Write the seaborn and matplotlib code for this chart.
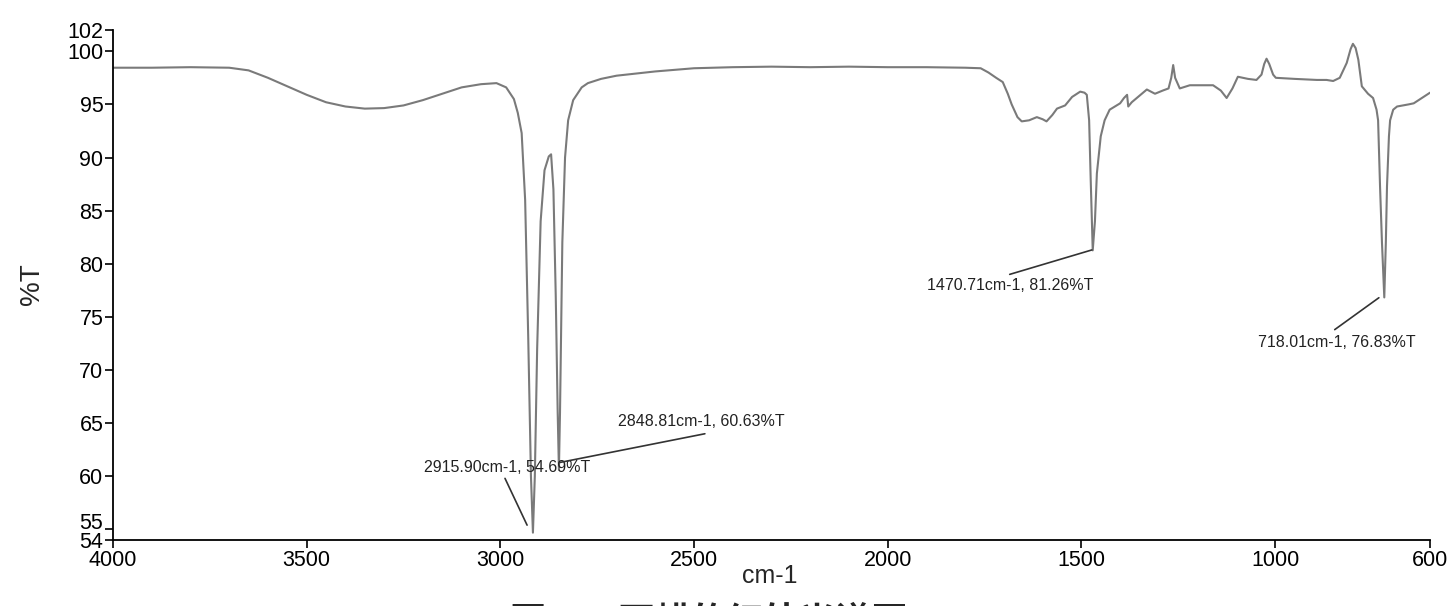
import matplotlib
matplotlib.use("Agg")
import matplotlib.pyplot as plt
import matplotlib.transforms as mtransforms
import seaborn as sns
import pandas as pd

# -------------------------------
# Spectrum (wavenumber, %T)
# -------------------------------
wavenumber = [
    4000, 3900, 3800, 3700, 3650, 3600, 3550, 3500, 3450, 3400, 3350, 3300,
    3250, 3200, 3150, 3100, 3050, 3010, 2985, 2965, 2955, 2945, 2936, 2928,
    2921, 2915.9, 2911, 2905, 2896, 2886, 2875, 2869, 2863, 2857, 2852,
    2848.81, 2846, 2840, 2833, 2825, 2812, 2790, 2774, 2740, 2700, 2600,
    2500, 2400, 2300, 2200, 2100, 2000, 1900, 1800, 1760, 1740, 1720, 1703,
    1690, 1680, 1665, 1654, 1635, 1615, 1600, 1590, 1575, 1563, 1542, 1524,
    1503, 1492, 1486, 1480, 1476, 1470.71, 1465, 1460, 1450, 1440, 1427,
    1400, 1390, 1382, 1379, 1370, 1357, 1331, 1310, 1290, 1275, 1268, 1263,
    1258, 1246, 1220, 1160, 1140, 1125, 1110, 1096, 1070, 1048, 1035, 1028,
    1022, 1015, 1005, 998, 950, 892, 867, 850, 833, 815, 805, 799, 792, 785,
    776, 760, 747, 738, 734, 729, 724, 718.01, 714, 711, 706, 703, 695, 685,
    670, 655, 642, 625, 612, 600,
]
transmittance = [
    98.45, 98.45, 98.5, 98.45, 98.2, 97.5, 96.7, 95.9, 95.2, 94.8, 94.6, 94.65,
    94.9, 95.4, 96.0, 96.6, 96.9, 97.0, 96.6, 95.5, 94.2, 92.3, 86.0, 73.0,
    60.0, 54.69, 60.0, 72.0, 84.0, 88.8, 90.1, 90.3, 87.0, 77.0, 66.0,
    60.63, 66.0, 82.0, 90.0, 93.5, 95.4, 96.6, 97.0, 97.4, 97.7, 98.1,
    98.4, 98.5, 98.55, 98.5, 98.55, 98.5, 98.5, 98.45, 98.4, 98.0, 97.5, 97.1,
    96.0, 95.0, 93.8, 93.4, 93.5, 93.8, 93.6, 93.4, 94.0, 94.6, 94.9, 95.7,
    96.2, 96.1, 95.9, 93.5, 88.0, 81.26, 84.0, 88.5, 92.0, 93.5, 94.5,
    95.1, 95.6, 95.9, 94.8, 95.2, 95.6, 96.4, 96.0, 96.3, 96.5, 97.5, 98.7,
    97.5, 96.5, 96.8, 96.8, 96.3, 95.6, 96.5, 97.6, 97.4, 97.3, 97.8, 98.8,
    99.3, 98.8, 97.8, 97.5, 97.4, 97.3, 97.3, 97.2, 97.5, 98.9, 100.2, 100.7, 100.3, 99.2,
    96.7, 96.0, 95.6, 94.5, 93.5, 87.3, 82.0, 76.83, 82.0, 87.3, 92.0, 93.5, 94.5, 94.8,
    94.9, 95.0, 95.1, 95.5, 95.8, 96.1,
]

# peak labels: (label, peak point, line end, text centre)
peak_labels = ["2915.90cm-1, 54.69%T", "2848.81cm-1, 60.63%T",
               "1470.71cm-1, 81.26%T", "718.01cm-1, 76.83%T"]
peak_tips = [(2931, 55.4), (2846, 61.3), (1473, 81.3), (732, 76.8)]
line_ends = [(2988, 59.8), (2472, 64.0), (1685, 79.0), (846, 73.8)]
text_pos = [(2983, 60.8), (2482, 65.2), (1685, 78.0), (840, 72.6)]

y_ticks = [54, 55, 60, 65, 70, 75, 80, 85, 90, 95, 100, 102]
x_ticks = [4000, 3500, 3000, 2500, 2000, 1500, 1000, 600]

df = pd.DataFrame({"wn": wavenumber, "T": transmittance})

sns.set_style("ticks")
plt.rcParams['font.family'] = ['Liberation Sans', 'DejaVu Sans']

fig = plt.figure(figsize=(14.56, 6.06), dpi=100)
ax = fig.add_axes([113 / 1456, 1 - 540 / 606, (1430 - 113) / 1456, (540 - 30) / 606])

sns.lineplot(data=df, x="wn", y="T", ax=ax, color="#7a7a7a", linewidth=1.5,
             estimator=None, sort=False)

ax.set_xlim(4000, 600)
ax.set_ylim(54, 102)
ax.set_xticks(x_ticks)
ax.set_yticks(y_ticks)
ax.set_xlabel("")
ax.set_ylabel("")
sns.despine(ax=ax)
for s in ["left", "bottom"]:
    ax.spines[s].set_color("black")
    ax.spines[s].set_linewidth(1.3)
ax.tick_params(direction="out", length=6, width=1.2, pad=1, labelsize=15.5,
               colors="black")

# the 55 label sits a little higher in the original
for lab in ax.get_yticklabels():
    if lab.get_text() == "55":
        lab.set_transform(lab.get_transform() +
                          mtransforms.ScaledTranslation(0, 8 / 100, fig.dpi_scale_trans))

for lab, tip, end, pos in zip(peak_labels, peak_tips, line_ends, text_pos):
    ax.annotate("", xy=tip, xytext=end,
                arrowprops=dict(arrowstyle="-", color="#333333", lw=1.2,
                                shrinkA=0, shrinkB=0))
    ax.text(pos[0], pos[1], lab, ha="center", va="center", fontsize=11.5,
            color="#222222")

fig.text(32 / 1456, 1 - 284 / 606, "%T", rotation=90, fontsize=20,
         ha="center", va="center")
fig.text(770 / 1456, 1 - 576 / 606, "cm-1", fontsize=18, ha="center", va="center")

# caption, mostly cut off by the bottom edge
fig.text(510 / 1456, 1 - 633 / 606, "图3-2  石蜡的红外光谱图", fontsize=26,
         fontweight="bold", ha="left", va="baseline",
         family=["Noto Sans CJK SC", "DejaVu Sans"])

fig.savefig("out.png", dpi=100)
